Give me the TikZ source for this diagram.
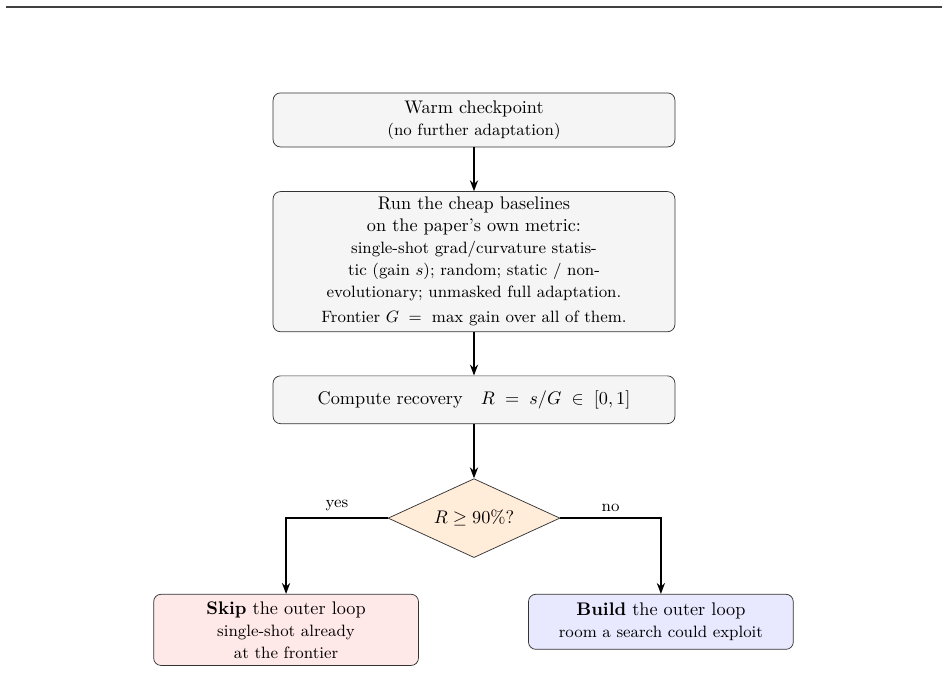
\documentclass[tikz,border=0pt]{standalone}
\usetikzlibrary{shapes.geometric,arrows.meta}

\begin{document}
\begin{tikzpicture}[
    box/.style={draw=black!80, rounded corners=4pt, fill=black!4, align=center,
      minimum width=7.74cm, inner sep=3pt},
    outcome/.style={draw=black!80, rounded corners=4pt, align=center,
      minimum width=5.1cm, inner sep=3pt},
    decision/.style={draw=black!80, diamond, aspect=2.2, fill=orange!15,
      inner sep=1pt, minimum width=3.31cm, minimum height=1.52cm},
    flow/.style={-{Stealth[length=6pt,width=4.5pt]}, thick}]
    \useasboundingbox (0,0) rectangle (18.26,-13.42);
    \draw[line width=1pt, black!75] (0.12,-0.135) -- (18.14,-0.135);
    \node[box, minimum height=1.04cm] (warm) at (9.13,-2.31)
      {Warm checkpoint\\ \small (no further adaptation)};
    \node[box, minimum height=2.6cm] (base) at (9.13,-5.04)
      {Run the cheap baselines\\
       on the paper's own metric:\\
       \small single-shot grad/curvature statis-\\
       \small tic (gain $s$); random; static / non-\\
       \small evolutionary; unmasked full adaptation.\\[2pt]
       \small Frontier $G\;=\;$ max gain over all of them.};
    \node[box, minimum height=0.92cm] (recov) at (9.13,-7.70)
      {Compute recovery\quad $R\;=\;s/G\;\in\;[0,1]$};
    \node[decision] (dec) at (9.13,-9.98) {$R\geq 90\%$?};
    \node[outcome, fill=red!9, minimum height=1.37cm, anchor=north] (skip) at (5.51,-11.44)
      {\textbf{Skip} the outer loop\\ \small single-shot already\\ \small at the frontier};
    \node[outcome, fill=blue!9, minimum height=1.06cm, anchor=north] (build) at (12.73,-11.44)
      {\textbf{Build} the outer loop\\ \small room a search could exploit};
    % arrows
    \draw[flow] (warm) -- (base);
    \draw[flow] (base) -- (recov);
    \draw[flow] (recov) -- (dec);
    \draw[flow] (dec.west) -- node[above, font=\small]{yes} (skip.north |- dec.west) -- (skip.north);
    \draw[flow] (dec.east) -- node[above, font=\small]{no} (build.north |- dec.east) -- (build.north);
\end{tikzpicture}
\end{document}
